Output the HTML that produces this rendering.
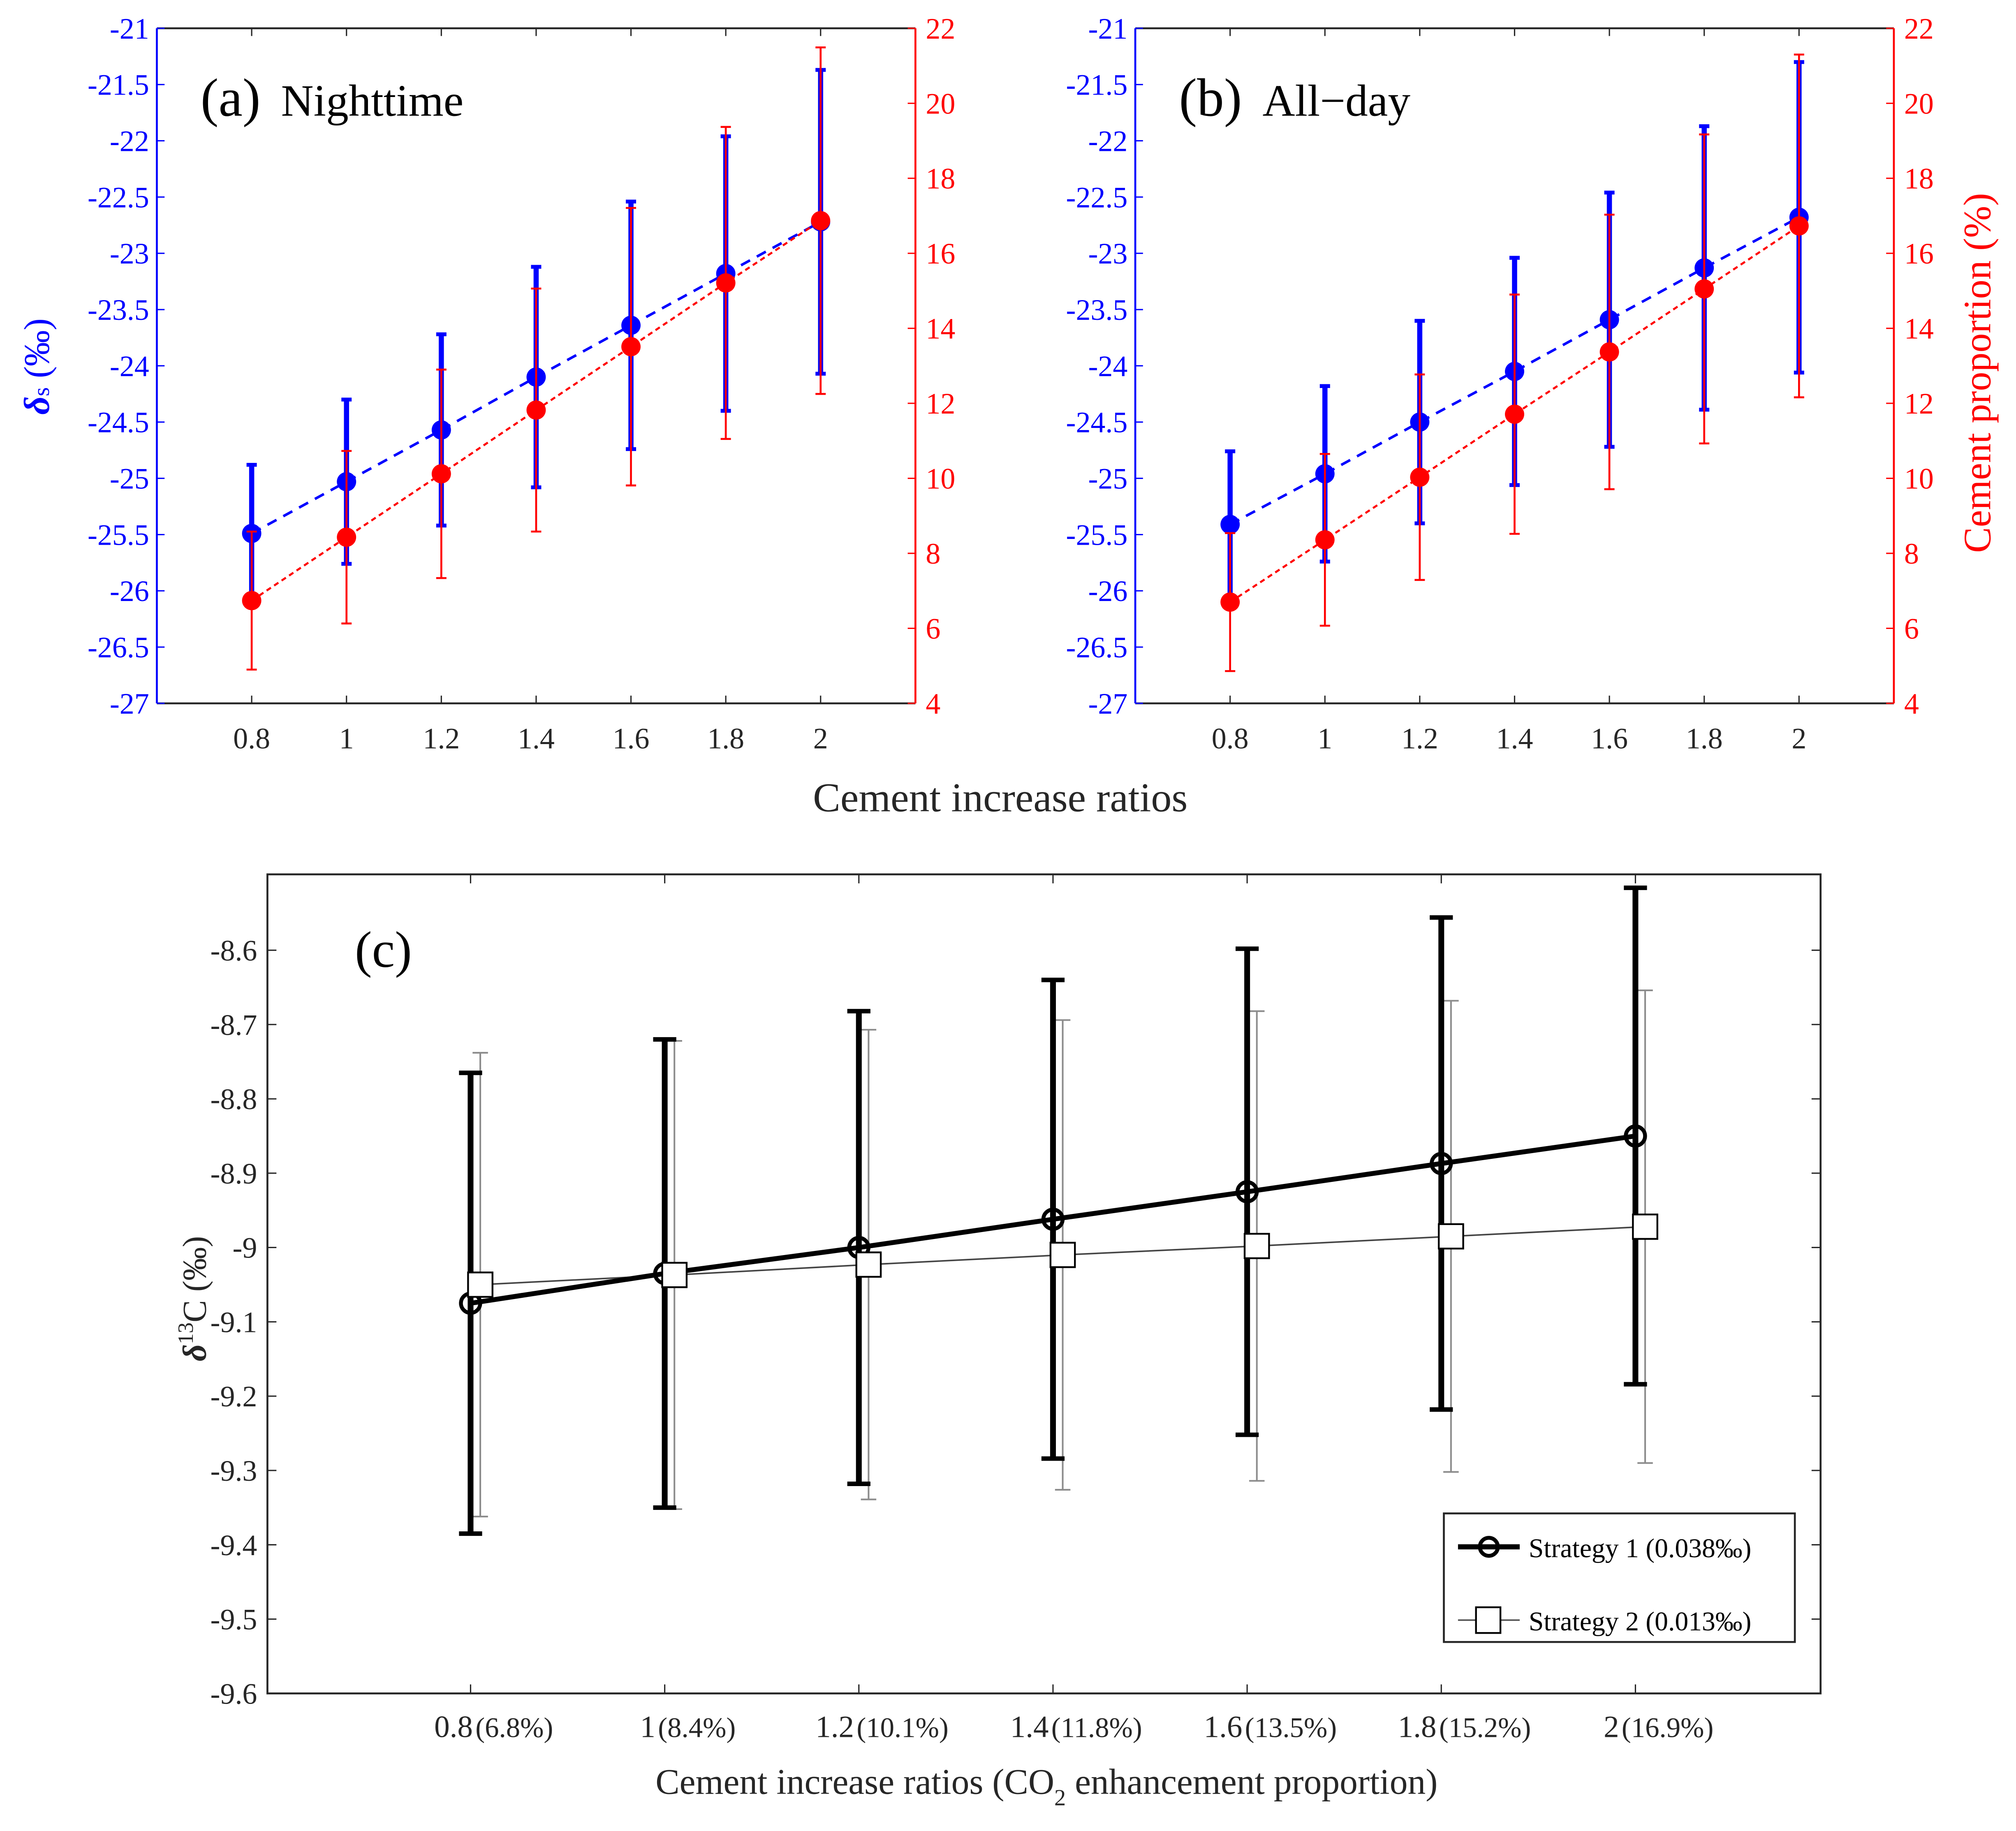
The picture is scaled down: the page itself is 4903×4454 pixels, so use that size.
<!DOCTYPE html>
<html><head><meta charset="utf-8">
<style>
html,body{margin:0;padding:0;background:#fff;}
svg{display:block;}
text{font-family:"Liberation Serif",serif;}
</style></head>
<body>
<svg id="fig" width="4903" height="4454" viewBox="0 0 1568 1424" preserveAspectRatio="none" xmlns="http://www.w3.org/2000/svg">
<rect x="0" y="0" width="1568" height="1424" fill="#fff"/>
</svg>
<script>
// ---------- data ----------
const ratios = [0.8, 1.0, 1.2, 1.4, 1.6, 1.8, 2.0];
// panel (a) nighttime
const aBlue = [-25.49, -25.03, -24.57, -24.10, -23.64, -23.18, -22.72];
const aBlueErr = [0.61, 0.73, 0.85, 0.98, 1.10, 1.22, 1.35];
const aRed = [6.74, 8.43, 10.12, 11.82, 13.51, 15.21, 16.87];
const aRedErr = [1.84, 2.30, 2.78, 3.24, 3.70, 4.16, 4.62];
// panel (b) all-day
const bBlue = [-25.41, -24.96, -24.50, -24.05, -23.59, -23.13, -22.68];
const bBlueErr = [0.65, 0.78, 0.90, 1.01, 1.13, 1.26, 1.38];
const bRed = [6.70, 8.36, 10.03, 11.71, 13.37, 15.05, 16.73];
const bRedErr = [1.84, 2.29, 2.74, 3.19, 3.66, 4.12, 4.57];
// panel (c)
const s1 = [-9.075, -9.035, -9.000, -8.962, -8.925, -8.887, -8.850];
const s1Err = [0.310, 0.315, 0.318, 0.322, 0.327, 0.331, 0.334];
const s2 = [-9.050, -9.037, -9.023, -9.010, -8.998, -8.985, -8.972];
const s2Err = [0.312, 0.315, 0.316, 0.316, 0.316, 0.317, 0.318];
const leftTicks = [-21, -21.5, -22, -22.5, -23, -23.5, -24, -24.5, -25, -25.5, -26, -26.5, -27];
const rightTicks = [4, 6, 8, 10, 12, 14, 16, 18, 20, 22];
const xTickLabels = ["0.8", "1", "1.2", "1.4", "1.6", "1.8", "2"];
const cYTicks = [-8.6, -8.7, -8.8, -8.9, -9, -9.1, -9.2, -9.3, -9.4, -9.5, -9.6];
const cPctLabels = ["(6.8%)", "(8.4%)", "(10.1%)", "(11.8%)", "(13.5%)", "(15.2%)", "(16.9%)"];

const NS = "http://www.w3.org/2000/svg";
const svg = document.getElementById("fig");
function el(tag, attrs, parent, txt) {
  const e = document.createElementNS(NS, tag);
  for (const k in attrs) e.setAttribute(k, attrs[k]);
  if (txt !== undefined) e.textContent = txt;
  (parent || svg).appendChild(e);
  return e;
}

function drawTop(px0, panelName, titleLetter, titleWord, blue, blueErr, red, redErr) {
  const x0 = px0, x1 = px0 + 590, y0 = 22, y1 = 547;
  const X = v => x0 + (v - 0.6) / 1.6 * (x1 - x0);
  const YL = v => y0 + (-21 - v) / 6 * (y1 - y0);
  const YR = v => y0 + (22 - v) / 18 * (y1 - y0);
  const g = el("g", {}, svg);
  
  
  el("line", {x1: x0, y1: y0, x2: x1, y2: y0, stroke: "#262626", "stroke-width": 1.5}, g);
  el("line", {x1: x0, y1: y1, x2: x1, y2: y1, stroke: "#262626", "stroke-width": 1.5}, g);
  el("line", {x1: x0, y1: y0, x2: x0, y2: y1, stroke: "#0000ff", "stroke-width": 1.5}, g);
  el("line", {x1: x1, y1: y0, x2: x1, y2: y1, stroke: "#ff0000", "stroke-width": 1.5}, g);
  ratios.forEach((r, i) => {
    const x = X(r);
    el("line", {x1: x, y1: y1, x2: x, y2: y1 - 6, stroke: "#262626", "stroke-width": 1}, g);
    el("line", {x1: x, y1: y0, x2: x, y2: y0 + 6, stroke: "#262626", "stroke-width": 1}, g);
    const t = el("text", {x: x, y: y1 + 35, "font-size": 23, "text-anchor": "middle", fill: "#262626"}, g, xTickLabels[i]);
    
    
  });
  leftTicks.forEach(v => {
    const y = YL(v);
    el("line", {x1: x0, y1: y, x2: x0 + 6, y2: y, stroke: "#0000ff", "stroke-width": 1}, g);
    const t = el("text", {x: x0 - 6, y: y + 8, "font-size": 23, "text-anchor": "end", fill: "#0000ff"}, g, String(v));
    
    
  });
  rightTicks.forEach(v => {
    const y = YR(v);
    el("line", {x1: x1, y1: y, x2: x1 - 6, y2: y, stroke: "#ff0000", "stroke-width": 1}, g);
    const t = el("text", {x: x1 + 8, y: y + 8, "font-size": 23, fill: "#ff0000"}, g, String(v));
    
    
  });
  const tt = el("text", {x: x0 + 34, y: 90, fill: "#000"}, g);
  
  
  el("tspan", {"font-size": 42}, tt, titleLetter);
  el("tspan", {"font-size": 35, dx: 16}, tt, titleWord);
  el("polyline", {points: ratios.map((r, i) => X(r) + "," + YL(blue[i])).join(" "), fill: "none", stroke: "#0000ff", "stroke-width": 2, "stroke-dasharray": "8,6"}, g);
  ratios.forEach((r, i) => {
    const x = X(r), yt = YL(blue[i] + blueErr[i]), yb = YL(blue[i] - blueErr[i]);
    const b = el("g", {}, g);
    
    
    el("line", {x1: x, y1: yt, x2: x, y2: yb, stroke: "#0000ff", "stroke-width": 4}, b);
    el("line", {x1: x - 4, y1: yt, x2: x + 4, y2: yt, stroke: "#0000ff", "stroke-width": 3}, b);
    el("line", {x1: x - 4, y1: yb, x2: x + 4, y2: yb, stroke: "#0000ff", "stroke-width": 3}, b);
  });
  ratios.forEach((r, i) => {
    const c = el("circle", {cx: X(r), cy: YL(blue[i]), r: 7.5, fill: "#0000ff"}, g);
    
    
  });
  el("polyline", {points: ratios.map((r, i) => X(r) + "," + YR(red[i])).join(" "), fill: "none", stroke: "#ff0000", "stroke-width": 1.6, "stroke-dasharray": "4,3"}, g);
  ratios.forEach((r, i) => {
    const x = X(r), yt = YR(red[i] + redErr[i]), yb = YR(red[i] - redErr[i]);
    const b = el("g", {}, g);
    
    
    el("line", {x1: x, y1: yt, x2: x, y2: yb, stroke: "#ff0000", "stroke-width": 1.5}, b);
    el("line", {x1: x - 4, y1: yt, x2: x + 4, y2: yt, stroke: "#ff0000", "stroke-width": 1.5}, b);
    el("line", {x1: x - 4, y1: yb, x2: x + 4, y2: yb, stroke: "#ff0000", "stroke-width": 1.5}, b);
  });
  ratios.forEach((r, i) => {
    const c = el("circle", {cx: X(r), cy: YR(red[i]), r: 7.5, fill: "#ff0000"}, g);
    
    
  });
}

drawTop(122, "panel-a-nighttime", "(a)", "Nighttime", aBlue, aBlueErr, aRed, aRedErr);
drawTop(883, "panel-b-all-day", "(b)", "All\u2212day", bBlue, bBlueErr, bRed, bRedErr);

const yl = el("text", {transform: "translate(38,285) rotate(-90)", "font-size": 28, "text-anchor": "middle", fill: "#0000ff"});


el("tspan", {"font-weight": "bold", "font-style": "italic"}, yl, "\u03B4");
el("tspan", {"font-size": 18}, yl, "s");
el("tspan", {}, yl, " (\u2030)");
const yr = el("text", {transform: "translate(1548,290) rotate(-90)", "font-size": 30, "text-anchor": "middle", fill: "#ff0000"}, svg, "Cement proportion (%)");


const xl = el("text", {x: 778, y: 631, "font-size": 32, "text-anchor": "middle", fill: "#262626"}, svg, "Cement increase ratios");



// ---------- panel c ----------
(function () {
  const x0 = 208, x1 = 1416, y0 = 680, y1 = 1317;
  const X = v => 366 + (v - 0.8) / 0.2 * 151;
  const Y = v => 739 + (-8.6 - v) / 0.1 * 57.8;
  const g = el("g", {});
  
  
  el("rect", {x: x0, y: y0, width: x1 - x0, height: y1 - y0, fill: "none", stroke: "#262626", "stroke-width": 1.5}, g);
  cYTicks.forEach(v => {
    const y = Y(v);
    el("line", {x1: x0, y1: y, x2: x0 + 7, y2: y, stroke: "#262626", "stroke-width": 1}, g);
    el("line", {x1: x1, y1: y, x2: x1 - 7, y2: y, stroke: "#262626", "stroke-width": 1}, g);
    const t = el("text", {x: x0 - 8, y: y + 8, "font-size": 23, "text-anchor": "end", fill: "#262626"}, g, String(v));
    
    
  });
  ratios.forEach((r, i) => {
    const x = X(r);
    el("line", {x1: x, y1: y1, x2: x, y2: y1 - 7, stroke: "#262626", "stroke-width": 1}, g);
    el("line", {x1: x, y1: y0, x2: x, y2: y0 + 7, stroke: "#262626", "stroke-width": 1}, g);
    const t = el("text", {x: x + 18, y: y1 + 34, "text-anchor": "middle", fill: "#262626"}, g);
    
    
    el("tspan", {"font-size": 24}, t, xTickLabels[i]);
    el("tspan", {"font-size": 22, dx: 2}, t, cPctLabels[i]);
  });
  const cl = el("text", {x: 276, y: 752, "font-size": 40, fill: "#000"}, g, "(c)");
  
  
  const off = 0.01;
  ratios.forEach((r, i) => {
    const x = X(r + off), yt = Y(s2[i] + s2Err[i]), yb = Y(s2[i] - s2Err[i]);
    const b = el("g", {}, g);
    
    
    el("line", {x1: x, y1: yt, x2: x, y2: yb, stroke: "#8c8c8c", "stroke-width": 1.3}, b);
    el("line", {x1: x - 6, y1: yt, x2: x + 6, y2: yt, stroke: "#8c8c8c", "stroke-width": 1.3}, b);
    el("line", {x1: x - 6, y1: yb, x2: x + 6, y2: yb, stroke: "#8c8c8c", "stroke-width": 1.3}, b);
  });
  el("polyline", {points: ratios.map((r, i) => X(r + off) + "," + Y(s2[i])).join(" "), fill: "none", stroke: "#444", "stroke-width": 1.2}, g);
  ratios.forEach((r, i) => {
    const x = X(r), yt = Y(s1[i] + s1Err[i]), yb = Y(s1[i] - s1Err[i]);
    const b = el("g", {}, g);
    
    
    el("line", {x1: x, y1: yt, x2: x, y2: yb, stroke: "#000", "stroke-width": 4.5}, b);
    el("line", {x1: x - 9, y1: yt, x2: x + 9, y2: yt, stroke: "#000", "stroke-width": 3.5}, b);
    el("line", {x1: x - 9, y1: yb, x2: x + 9, y2: yb, stroke: "#000", "stroke-width": 3.5}, b);
  });
  el("polyline", {points: ratios.map((r, i) => X(r) + "," + Y(s1[i])).join(" "), fill: "none", stroke: "#000", "stroke-width": 3.8}, g);
  ratios.forEach((r, i) => {
    const c = el("circle", {cx: X(r), cy: Y(s1[i]), r: 7.5, fill: "none", stroke: "#000", "stroke-width": 3}, g);
    
    
  });
  ratios.forEach((r, i) => {
    const s = el("rect", {x: X(r + off) - 9.5, y: Y(s2[i]) - 9.5, width: 19, height: 19, fill: "#fff", stroke: "#000", "stroke-width": 1.4}, g);
    
    
  });
  const lg = el("g", {}, g);
  
  
  el("rect", {x: 1123, y: 1177, width: 273, height: 100, fill: "#fff", stroke: "#262626", "stroke-width": 1.5}, lg);
  const e1 = el("g", {}, lg);
  
  
  el("line", {x1: 1134, y1: 1203, x2: 1182, y2: 1203, stroke: "#000", "stroke-width": 4}, e1);
  el("circle", {cx: 1158, cy: 1203, r: 7, fill: "none", stroke: "#000", "stroke-width": 3}, e1);
  el("text", {x: 1189, y: 1211, "font-size": 21, fill: "#000"}, e1, "Strategy 1 (0.038\u2030)");
  const e2 = el("g", {}, lg);
  
  
  el("line", {x1: 1134, y1: 1260, x2: 1182, y2: 1260, stroke: "#555", "stroke-width": 1.2}, e2);
  el("rect", {x: 1148, y: 1250, width: 19, height: 20, fill: "#fff", stroke: "#000", "stroke-width": 1.4}, e2);
  el("text", {x: 1189, y: 1268, "font-size": 21, fill: "#000"}, e2, "Strategy 2 (0.013\u2030)");
  const cy = el("text", {transform: "translate(160,1010) rotate(-90)", "font-size": 26, "text-anchor": "middle", fill: "#262626"}, g);
  
  
  el("tspan", {"font-weight": "bold", "font-style": "italic"}, cy, "\u03B4");
  el("tspan", {"font-size": 17, dy: -10}, cy, "13");
  el("tspan", {dy: 10}, cy, "C (\u2030)");
  const cx = el("text", {x: 814, y: 1395, "font-size": 28, "text-anchor": "middle", fill: "#262626"}, g);
  
  
  el("tspan", {}, cx, "Cement increase ratios (CO");
  el("tspan", {"font-size": 18, dy: 9}, cx, "2");
  el("tspan", {dy: -9}, cx, " enhancement proportion)");
})();
</script>
</body></html>
